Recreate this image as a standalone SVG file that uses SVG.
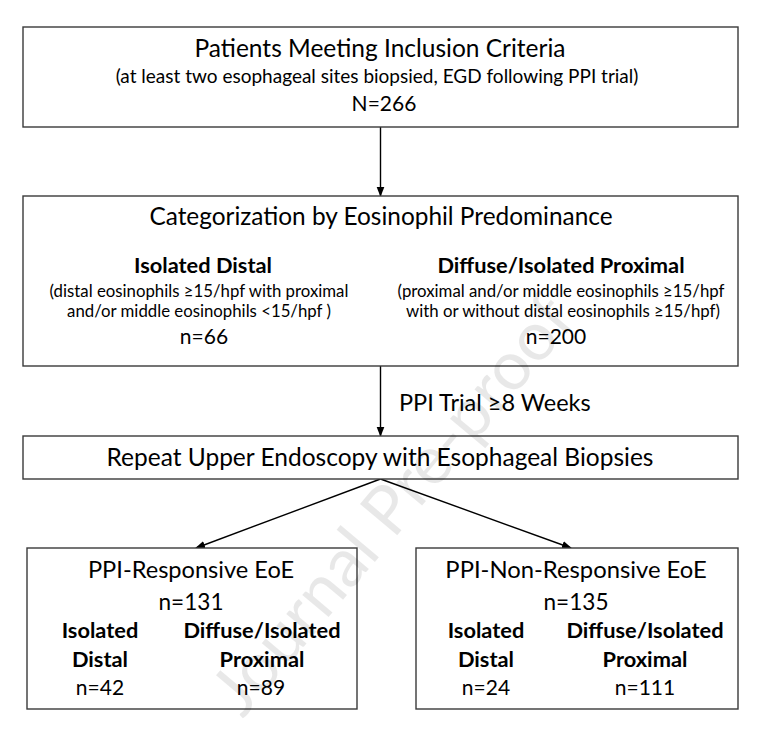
<svg xmlns="http://www.w3.org/2000/svg" width="780" height="739" viewBox="0 0 780 739">
<defs>
<marker id="ah" markerWidth="10" markerHeight="10" refX="9" refY="5" orient="auto" markerUnits="userSpaceOnUse">
<path d="M0,1.2 L10,5 L0,8.8 Z" fill="#000"/>
</marker>
<style>
.box{fill:#fff;stroke:#3a3a3a;stroke-width:1.4}
text{font-family:Lato,"Open Sans",sans-serif;fill:#000;text-anchor:middle}
.b{font-weight:bold}
.con{stroke:#000;stroke-width:1.4;fill:none;marker-end:url(#ah)}
.s{font-size:16.8px}
.h{font-size:21.8px}
.n{font-size:21px}
</style>
</defs>
<rect width="780" height="739" fill="#fff"/>
<g id="connectors">
<line class="con" x1="380.5" y1="127" x2="380.5" y2="196"/>
<line class="con" x1="380.5" y1="366" x2="380.5" y2="436"/>
<line class="con" x1="380.5" y1="479" x2="196" y2="548"/>
<line class="con" x1="380.5" y1="479" x2="571" y2="548"/>
<text x="399" y="411" style="text-anchor:start;font-size:23.5px">PPI Trial ≥8 Weeks</text>
</g>
<g id="n1">
<rect class="box" x="23" y="27" width="715" height="100"/>
<text x="380" y="57" style="font-size:24.5px">Patients Meeting Inclusion Criteria</text>
<text x="377" y="83" style="font-size:19px">(at least two esophageal sites biopsied, EGD following PPI trial)</text>
<text x="384" y="111" style="font-size:21px">N=266</text>
</g>
<g id="n2">
<rect class="box" x="23" y="196" width="715" height="170"/>
<text x="381" y="225" style="font-size:24.4px">Categorization by Eosinophil Predominance</text>
<text class="b h" x="203" y="273">Isolated Distal</text>
<text class="s" x="199" y="297">(distal eosinophils ≥15/hpf with proximal</text>
<text class="s" x="199" y="317">and/or middle eosinophils &lt;15/hpf )</text>
<text class="n" x="204" y="344">n=66</text>
<text class="b h" x="561" y="273">Diffuse/Isolated Proximal</text>
<text class="s" x="561" y="297">(proximal and/or middle eosinophils ≥15/hpf</text>
<text class="s" x="563" y="317">with or without distal eosinophils ≥15/hpf)</text>
<text class="n" x="556" y="344">n=200</text>
</g>
<g id="n3">
<rect class="box" x="23" y="436" width="715" height="43"/>
<text x="380" y="466" style="font-size:24.5px">Repeat Upper Endoscopy with Esophageal Biopsies</text>
</g>
<g id="n4">
<rect class="box" x="27" y="548" width="330" height="161"/>
<text x="191" y="578" style="font-size:23.6px">PPI-Responsive EoE</text>
<text x="191" y="610" style="font-size:22.6px">n=131</text>
<text class="b h" x="100" y="638">Isolated</text>
<text class="b h" x="100" y="667">Distal</text>
<text class="n" x="100" y="695">n=42</text>
<text class="b h" x="262" y="638">Diffuse/Isolated</text>
<text class="b h" x="262" y="667">Proximal</text>
<text class="n" x="261" y="695">n=89</text>
</g>
<g id="n5">
<rect class="box" x="416" y="548" width="322" height="161"/>
<text x="576" y="578" style="font-size:23.8px">PPI-Non-Responsive EoE</text>
<text x="576" y="610" style="font-size:22.6px">n=135</text>
<text class="b h" x="486" y="638">Isolated</text>
<text class="b h" x="486" y="667">Distal</text>
<text class="n" x="486" y="695">n=24</text>
<text class="b h" x="645" y="638">Diffuse/Isolated</text>
<text class="b h" x="645" y="667">Proximal</text>
<text class="n" x="645" y="695">n=111</text>
</g>
<text x="410" y="520" transform="rotate(-50 410 520)" style="font-size:68px;fill:#000;fill-opacity:0.09">Journal Pre-proof</text>
</svg>
